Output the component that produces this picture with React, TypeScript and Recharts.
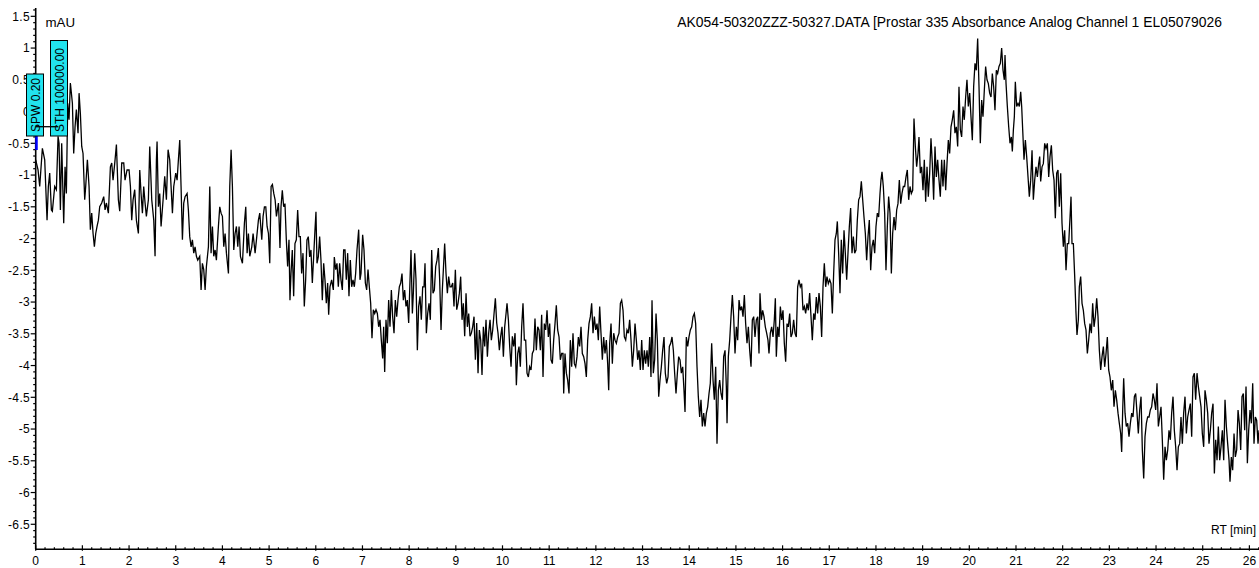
import React from 'react';
import { LineChart, Line, XAxis, YAxis } from 'recharts';

// RT [min], absorbance [mAU], in five consecutive stretches
const trace0to5: [number, number][] = [
[0,-0.76],[0.05,-0.92],[0.086,-1.18],[0.143,-0.58],[0.193,-0.76],[0.243,-1.71],[0.271,-1.18],[0.3,-0.97],[0.336,-1.55],[0.357,-1.57],[0.407,-1.18],[0.443,-1.23],[0.479,-0.39],[0.5,-0.5],[0.529,-1.55],[0.557,-0.5],[0.6,-1.76],[0.629,-0.87],[0.657,-1.29],[0.686,0.13],[0.714,-0.13],[0.743,0.45],[0.786,0.13],[0.814,-0.66],[0.843,-0.24],[0.871,0.03],[0.907,-0.34],[0.929,0.29],[0.957,-0.03],[0.986,-0.55],[1.014,-0.66],[1.05,-1.39],[1.071,-1.18],[1.107,-0.76],[1.143,-1.18],[1.171,-1.86],[1.2,-1.6],[1.229,-1.92],[1.257,-2.13],[1.286,-1.92],[1.314,-1.81],[1.343,-1.71],[1.371,-1.5],[1.414,-1.44],[1.457,-1.34],[1.486,-1.55],[1.514,-1.44],[1.557,-1.6],[1.6,-0.87],[1.629,-0.81],[1.657,-1.08],[1.7,-0.76],[1.729,-0.52],[1.771,-1.39],[1.8,-1.57],[1.843,-0.81],[1.886,-0.81],[1.914,-1.08],[1.957,-0.92],[2,-0.92],[2.029,-1.18],[2.057,-1.71],[2.086,-1.39],[2.121,-1.23],[2.157,-1.71],[2.2,-1.92],[2.229,-0.92],[2.257,-1.29],[2.286,-1.6],[2.314,-1.18],[2.343,-1.44],[2.371,-1.65],[2.414,-1.39],[2.443,-0.55],[2.486,-1.39],[2.529,-1.71],[2.557,-2.28],[2.586,-0.76],[2.6,-0.47],[2.629,-1.5],[2.657,-1.29],[2.686,-1.81],[2.729,-1.39],[2.764,-1.02],[2.8,-1.39],[2.836,-0.6],[2.871,-0.76],[2.9,-1.18],[2.929,-1.6],[2.957,-1.18],[3,-0.97],[3.029,-1.08],[3.057,-0.76],[3.086,-0.45],[3.114,-1.18],[3.143,-2.02],[3.171,-1.44],[3.2,-1.34],[3.243,-1.29],[3.271,-1.55],[3.3,-1.97],[3.329,-2.13],[3.357,-2.02],[3.386,-2.23],[3.414,-2.13],[3.443,-2.28],[3.471,-2.34],[3.514,-2.28],[3.543,-2.81],[3.571,-2.39],[3.6,-2.49],[3.629,-2.81],[3.657,-2.44],[3.7,-2.13],[3.729,-1.18],[3.757,-2.23],[3.786,-1.81],[3.814,-2.28],[3.843,-2.18],[3.871,-2.34],[3.914,-1.81],[3.943,-1.5],[3.971,-1.6],[4,-1.65],[4.029,-2.13],[4.057,-1.92],[4.086,-2.23],[4.129,-2.55],[4.157,-1.18],[4.186,-0.6],[4.214,-1.18],[4.243,-2.18],[4.271,-1.92],[4.3,-1.81],[4.329,-2.13],[4.357,-1.81],[4.386,-2.28],[4.429,-2.39],[4.471,-1.76],[4.5,-1.5],[4.529,-2.23],[4.557,-1.92],[4.586,-2.28],[4.629,-2.13],[4.657,-1.92],[4.7,-2.23],[4.729,-2.02],[4.771,-1.71],[4.8,-1.6],[4.843,-2.02],[4.871,-1.65],[4.9,-1.5],[4.929,-1.5],[4.957,-1.81],[4.986,-1.92],[5.014,-2.39],[5.043,-1.18],[5.071,-1.15],[5.1,-1.29],[5.129,-1.39],[5.157,-1.65],[5.2,-1.44]
];

const trace5to10: [number, number][] = [
[5.212,-1.66],[5.233,-2.15],[5.255,-1.5],[5.283,-1.24],[5.312,-1.5],[5.34,-1.45],[5.369,-2.02],[5.397,-2.44],[5.426,-2.02],[5.447,-2.97],[5.469,-2.55],[5.497,-2.18],[5.526,-2.91],[5.554,-2.08],[5.583,-2.02],[5.612,-1.55],[5.64,-1.97],[5.669,-1.97],[5.697,-2.55],[5.726,-2.23],[5.754,-3.07],[5.783,-2.65],[5.811,-2.02],[5.84,-1.97],[5.869,-2.29],[5.897,-2.18],[5.926,-2.7],[5.954,-2.29],[5.983,-1.86],[6.004,-1.58],[6.026,-2.39],[6.054,-2.29],[6.083,-1.97],[6.111,-2.34],[6.14,-2.97],[6.169,-2.39],[6.197,-2.65],[6.226,-3.02],[6.254,-2.7],[6.276,-3.2],[6.304,-2.76],[6.34,-2.65],[6.376,-2.81],[6.397,-2.29],[6.426,-2.49],[6.454,-2.39],[6.483,-2.76],[6.511,-2.39],[6.54,-2.65],[6.569,-2.81],[6.597,-2.18],[6.626,-2.18],[6.654,-2.65],[6.683,-2.23],[6.711,-2.91],[6.74,-2.34],[6.769,-2.76],[6.797,-2.65],[6.826,-2.76],[6.854,-2.55],[6.883,-2.18],[6.919,-1.86],[6.947,-2.65],[6.969,-2.55],[7.004,-1.94],[7.033,-2.18],[7.062,-2.7],[7.09,-2.81],[7.119,-2.49],[7.147,-2.76],[7.176,-3.02],[7.204,-3.57],[7.233,-3.12],[7.262,-3.18],[7.29,-3.12],[7.319,-3.18],[7.347,-3.39],[7.376,-3.28],[7.404,-3.6],[7.433,-3.89],[7.454,-3.39],[7.476,-4.1],[7.504,-3.28],[7.533,-3.65],[7.561,-2.97],[7.59,-3.39],[7.619,-2.81],[7.647,-3.23],[7.676,-3.49],[7.704,-2.97],[7.733,-3.23],[7.761,-2.97],[7.79,-2.76],[7.819,-2.7],[7.847,-2.55],[7.876,-2.97],[7.904,-2.81],[7.933,-3.07],[7.961,-2.97],[7.99,-3.33],[8.019,-2.65],[8.04,-2.18],[8.069,-3.18],[8.09,-2.86],[8.119,-2.23],[8.147,-2.65],[8.176,-3.76],[8.204,-3.07],[8.233,-2.91],[8.261,-3.28],[8.29,-2.76],[8.319,-2.76],[8.34,-2.39],[8.369,-3.49],[8.397,-3.18],[8.426,-3.02],[8.454,-3.28],[8.483,-2.18],[8.511,-2.86],[8.54,-2.81],[8.569,-2.44],[8.597,-2.34],[8.626,-2.15],[8.654,-2.65],[8.683,-3.44],[8.711,-2.81],[8.733,-2.49],[8.761,-2.08],[8.79,-2.55],[8.819,-2.86],[8.847,-2.6],[8.876,-2.76],[8.904,-2.76],[8.933,-2.7],[8.961,-3.07],[8.99,-2.49],[9.019,-3.12],[9.047,-3.02],[9.076,-2.86],[9.104,-2.6],[9.133,-3.28],[9.161,-3.02],[9.19,-3.54],[9.219,-2.86],[9.247,-3.39],[9.276,-3.18],[9.304,-3.54],[9.333,-3.49],[9.361,-3.39],[9.39,-3.23],[9.419,-3.91],[9.447,-3.33],[9.476,-4.12],[9.504,-3.44],[9.533,-3.6],[9.561,-4.15],[9.59,-3.39],[9.619,-3.7],[9.647,-3.28],[9.676,-3.86],[9.704,-3.49],[9.733,-3.28],[9.761,-3.6],[9.79,-3.44],[9.819,-3.18],[9.847,-2.94],[9.876,-3.33],[9.904,-3.49],[9.933,-3.76],[9.961,-3.54],[9.99,-3.39],[10.019,-3.86],[10.047,-3.39],[10.076,-3.18],[10.097,-3.02],[10.126,-3.28],[10.154,-3.7],[10.183,-4.02],[10.211,-3.54],[10.24,-3.7],[10.269,-3.49],[10.297,-4.31],[10.326,-3.81],[10.354,-3.7]
];

const trace10to15: [number, number][] = [
[10.382,-4.02],[10.411,-3.39],[10.439,-3.02],[10.468,-3.6],[10.497,-3.6],[10.525,-4.12],[10.554,-4.18],[10.582,-4.02],[10.611,-4.07],[10.639,-3.81],[10.668,-3.76],[10.696,-3.26],[10.725,-3.76],[10.754,-3.39],[10.782,-3.44],[10.811,-3.76],[10.839,-3.2],[10.868,-4.18],[10.896,-3.34],[10.925,-3.44],[10.954,-3.13],[10.982,-3.55],[11.011,-3.34],[11.039,-3.91],[11.068,-3.97],[11.096,-3.6],[11.125,-3.34],[11.153,-3.05],[11.182,-3.44],[11.211,-3.55],[11.239,-3.91],[11.268,-3.81],[11.296,-3.81],[11.311,-4.44],[11.339,-3.81],[11.368,-4.12],[11.396,-4.23],[11.425,-4.44],[11.453,-3.6],[11.482,-4.02],[11.51,-3.49],[11.539,-3.97],[11.568,-4.02],[11.596,-3.86],[11.625,-3.55],[11.653,-3.7],[11.682,-3.39],[11.71,-3.81],[11.739,-3.86],[11.768,-3.97],[11.796,-4.18],[11.825,-3.6],[11.853,-3.34],[11.882,-3.23],[11.91,-3.02],[11.939,-3.49],[11.968,-3.23],[11.996,-3.44],[12.025,-3.34],[12.053,-3.6],[12.082,-3.07],[12.11,-3.49],[12.139,-3.91],[12.167,-3.55],[12.196,-3.81],[12.225,-3.6],[12.253,-3.97],[12.275,-4.39],[12.296,-3.65],[12.325,-3.34],[12.353,-3.97],[12.382,-3.49],[12.41,-3.6],[12.439,-3.65],[12.467,-3.55],[12.496,-3.49],[12.525,-3.02],[12.553,-2.97],[12.582,-3.13],[12.61,-3.55],[12.639,-3.6],[12.667,-3.44],[12.696,-3.49],[12.724,-3.28],[12.753,-3.6],[12.782,-4.02],[12.81,-3.76],[12.839,-3.34],[12.867,-3.6],[12.896,-3.91],[12.924,-3.76],[12.953,-4.07],[12.982,-3.6],[13.01,-4.07],[13.039,-3.76],[13.067,-3.97],[13.096,-3.76],[13.124,-4.02],[13.153,-3.55],[13.181,-4.18],[13.203,-2.97],[13.231,-4.12],[13.26,-3.91],[13.289,-3.18],[13.317,-3.6],[13.346,-4.49],[13.374,-4.23],[13.403,-4.02],[13.431,-3.76],[13.46,-3.55],[13.488,-4.12],[13.517,-4.28],[13.546,-4.18],[13.574,-3.7],[13.603,-3.65],[13.631,-3.55],[13.66,-3.76],[13.688,-4.12],[13.717,-4.44],[13.746,-4.12],[13.774,-3.86],[13.803,-3.91],[13.831,-4.12],[13.86,-4.02],[13.888,-4.39],[13.91,-4.73],[13.938,-3.55],[13.967,-3.7],[13.995,-3.55],[14.024,-3.44],[14.053,-3.39],[14.081,-3.23],[14.11,-3.18],[14.138,-3.34],[14.167,-4.02],[14.195,-4.49],[14.224,-4.81],[14.252,-4.54],[14.281,-4.96],[14.31,-4.75],[14.338,-4.96],[14.367,-4.75],[14.395,-4.65],[14.424,-4.44],[14.452,-4.28],[14.481,-3.65],[14.51,-4.23],[14.538,-4.54],[14.567,-4.02],[14.595,-5.23],[14.624,-4.39],[14.652,-4.23],[14.681,-4.44],[14.71,-4.54],[14.738,-3.86],[14.767,-3.76],[14.795,-4.33],[14.81,-4.91],[14.838,-3.86],[14.867,-3.6],[14.895,-3.23],[14.924,-2.89],[14.952,-3.23],[14.981,-3.81],[15.01,-3.39],[15.038,-3.6],[15.067,-2.97],[15.095,-3.13],[15.124,-3.07],[15.152,-3.23],[15.181,-2.89],[15.209,-3.34],[15.238,-3.65],[15.267,-3.39],[15.295,-3.76],[15.324,-4.02],[15.352,-3.28],[15.381,-3.23],[15.409,-3.55],[15.438,-3.28],[15.467,-3.23],[15.495,-3.81]
];

const trace15to20: [number, number][] = [
[15.516,-2.86],[15.545,-3.28],[15.573,-3.13],[15.602,-3.23],[15.63,-3.39],[15.659,-3.49],[15.687,-3.6],[15.709,-3.81],[15.737,-3.49],[15.766,-3.39],[15.795,-3.55],[15.823,-3.28],[15.845,-2.94],[15.866,-3.86],[15.895,-3.39],[15.923,-3.55],[15.952,-3.07],[15.98,-3.28],[16.009,-3.13],[16.037,-3.65],[16.066,-3.94],[16.095,-3.34],[16.123,-3.39],[16.152,-3.18],[16.18,-3.55],[16.209,-3.49],[16.237,-3.28],[16.266,-3.49],[16.294,-3.55],[16.323,-2.76],[16.352,-2.65],[16.38,-2.76],[16.409,-2.71],[16.437,-3.13],[16.466,-3.07],[16.494,-3.18],[16.523,-3.02],[16.552,-3.13],[16.58,-2.86],[16.609,-3.23],[16.637,-3.6],[16.666,-3.18],[16.694,-3.28],[16.723,-2.92],[16.751,-3.18],[16.78,-2.86],[16.809,-3.07],[16.837,-3.55],[16.866,-2.76],[16.894,-2.39],[16.923,-2.76],[16.951,-2.6],[16.98,-2.71],[17.009,-2.65],[17.037,-2.71],[17.066,-3.18],[17.094,-2.55],[17.123,-2.02],[17.151,-1.92],[17.173,-1.73],[17.201,-2.23],[17.23,-2.86],[17.258,-2.02],[17.287,-2.55],[17.316,-1.87],[17.344,-2.23],[17.373,-2.65],[17.401,-2.23],[17.43,-1.81],[17.458,-1.52],[17.487,-2.23],[17.516,-1.97],[17.544,-2.23],[17.573,-2.18],[17.601,-1.71],[17.63,-1.39],[17.658,-1.34],[17.687,-1.1],[17.716,-1.39],[17.744,-1.66],[17.773,-1.92],[17.801,-2.34],[17.83,-1.97],[17.858,-1.71],[17.887,-2.5],[17.915,-2.13],[17.944,-2.02],[17.973,-2.23],[18.001,-1.81],[18.03,-1.6],[18.058,-1.66],[18.087,-1.29],[18.108,-1.08],[18.13,-0.95],[18.158,-1.18],[18.187,-1.6],[18.215,-2.5],[18.244,-1.81],[18.272,-1.34],[18.301,-1.6],[18.33,-2.55],[18.358,-1.92],[18.387,-1.66],[18.415,-1.87],[18.444,-1.55],[18.472,-1.45],[18.501,-1.08],[18.53,-1.45],[18.558,-1.29],[18.587,-1.18],[18.615,-1.18],[18.644,-1.03],[18.672,-0.92],[18.701,-1.39],[18.73,-1.18],[18.758,-1.29],[18.787,-1.24],[18.815,-0.11],[18.844,-0.55],[18.872,-0.87],[18.901,-0.66],[18.922,-0.4],[18.951,-0.97],[18.979,-0.87],[19.008,-1.24],[19.036,-0.76],[19.065,-1.42],[19.094,-0.87],[19.122,-1.34],[19.151,-0.97],[19.179,-0.42],[19.208,-0.82],[19.236,-1.39],[19.265,-0.55],[19.294,-1.03],[19.322,-0.76],[19.351,-1.08],[19.379,-1.34],[19.408,-0.76],[19.436,-1.18],[19.465,-0.76],[19.494,-1.24],[19.522,-0.82],[19.551,-0.45],[19.579,-0.66],[19.608,-0.24],[19.636,-0.13],[19.665,0.02],[19.693,-0.34],[19.722,-0.24],[19.751,-0.55],[19.779,0.39],[19.808,-0.29],[19.836,-0.4],[19.865,0.08],[19.893,-0.13],[19.922,0.23],[19.95,0.5],[19.979,0.08],[20.008,0.29],[20.036,-0.08],[20.065,-0.45],[20.093,0.39],[20.122,0.76],[20.15,0.65],[20.179,1.15],[20.208,0.39],[20.236,-0.5],[20.265,0.18],[20.293,-0.08],[20.322,0.34],[20.35,0.71],[20.379,0.5],[20.408,0.44],[20.436,0.29],[20.465,0.23],[20.493,0.6],[20.522,0.39],[20.55,0.02],[20.579,0.65],[20.607,0.6],[20.636,0.71],[20.665,0.76],[20.693,1.0],[20.722,0.65],[20.75,0.5]
];

const trace20to26: [number, number][] = [
[20.765,0.89],[20.787,0.44],[20.815,0.08],[20.844,-0.24],[20.872,-0.5],[20.901,-0.4],[20.922,-0.63],[20.944,-0.29],[20.965,-0.08],[20.986,0.47],[21.015,0.08],[21.044,0.13],[21.072,0.08],[21.101,0.31],[21.122,0.08],[21.144,-0.29],[21.172,-0.76],[21.201,-0.45],[21.229,-0.71],[21.258,-1.03],[21.286,-1.34],[21.315,-1.08],[21.344,-0.61],[21.372,-1.39],[21.401,-1.08],[21.429,-0.87],[21.458,-1.03],[21.486,-0.82],[21.508,-0.71],[21.529,-1.1],[21.558,-0.87],[21.586,-0.82],[21.615,-0.5],[21.643,-0.58],[21.672,-0.5],[21.701,-1.03],[21.729,-0.71],[21.758,-0.53],[21.786,-0.92],[21.815,-1.08],[21.843,-1.68],[21.872,-0.97],[21.9,-0.92],[21.929,-1.5],[21.958,-0.97],[21.986,-1.76],[22.015,-2.13],[22.043,-1.87],[22.072,-2.5],[22.1,-2.08],[22.129,-2.08],[22.158,-1.66],[22.179,-1.34],[22.2,-2.08],[22.229,-2.08],[22.258,-2.6],[22.286,-3.18],[22.307,-3.52],[22.336,-3.28],[22.357,-2.76],[22.386,-2.6],[22.415,-3.02],[22.443,-3.13],[22.472,-3.34],[22.5,-3.44],[22.529,-3.81],[22.557,-3.6],[22.586,-3.34],[22.615,-3.49],[22.643,-3.02],[22.672,-3.39],[22.7,-3.23],[22.729,-2.94],[22.757,-3.23],[22.786,-3.76],[22.815,-4.07],[22.843,-3.86],[22.872,-3.7],[22.9,-4.02],[22.929,-3.81],[22.957,-3.55],[22.986,-4.07],[23.014,-4.18],[23.043,-4.39],[23.072,-4.23],[23.1,-4.65],[23.129,-4.39],[23.157,-4.54],[23.186,-4.75],[23.214,-4.91],[23.243,-5.07],[23.264,-5.36],[23.286,-4.7],[23.307,-4.2],[23.336,-4.75],[23.364,-4.96],[23.393,-4.91],[23.421,-5.12],[23.45,-4.91],[23.479,-4.75],[23.507,-4.81],[23.536,-4.49],[23.564,-4.44],[23.593,-4.75],[23.621,-5.07],[23.65,-4.7],[23.679,-4.49],[23.707,-5.33],[23.736,-5.78],[23.764,-5.12],[23.793,-4.91],[23.821,-4.81],[23.85,-4.81],[23.878,-4.7],[23.907,-4.65],[23.936,-4.44],[23.964,-4.54],[23.993,-4.7],[24.021,-4.28],[24.05,-4.96],[24.078,-4.81],[24.107,-4.65],[24.135,-5.17],[24.164,-5.8],[24.193,-5.28],[24.221,-5.49],[24.25,-5.33],[24.278,-5.02],[24.307,-5.17],[24.335,-4.75],[24.364,-4.49],[24.392,-5.02],[24.421,-5.28],[24.45,-5.65],[24.478,-5.28],[24.507,-5.23],[24.535,-4.81],[24.564,-5.23],[24.592,-4.75],[24.621,-4.49],[24.65,-5.07],[24.678,-4.81],[24.707,-4.7],[24.735,-4.6],[24.764,-5.12],[24.792,-4.18],[24.821,-4.12],[24.849,-4.54],[24.878,-4.12],[24.907,-4.33],[24.935,-4.49],[24.964,-4.65],[24.992,-5.07],[25.021,-5.28],[25.049,-4.39],[25.078,-4.54],[25.107,-4.75],[25.135,-5.23],[25.164,-5.02],[25.192,-4.75],[25.221,-4.6],[25.25,-5.7],[25.278,-5.17],[25.307,-5.49],[25.335,-4.96],[25.364,-5.49],[25.392,-5.28],[25.421,-5.02],[25.45,-5.49],[25.478,-4.54],[25.507,-4.96],[25.535,-5.23],[25.564,-5.49],[25.585,-5.83],[25.614,-5.44],[25.642,-5.65],[25.671,-5.07],[25.699,-5.44],[25.728,-5.33],[25.757,-4.7],[25.785,-4.91],[25.814,-5.33],[25.842,-4.49],[25.871,-4.44],[25.899,-5.02],[25.928,-4.33],[25.957,-5.54],[25.985,-5.02],[26.014,-4.7],[26.042,-4.91],[26.071,-4.28],[26.099,-5.23],[26.128,-4.81],[26.156,-4.86],[26.185,-5.23],[26.206,-5.02]
];

const rtMajorTicks = [0,1,2,3,4,5,6,7,8,9,10,11,12,13,14,15,16,17,18,19,20,21,22,23,24,25,26];
const mauMajorTicks = [1.5,1,0.5,0,-0.5,-1,-1.5,-2,-2.5,-3,-3.5,-4,-4.5,-5,-5.5,-6,-6.5];
const rtDomain: [number, number] = [0, 26.206];
const mauDomain: [number, number] = [-6.894, 1.631];

const headerText = 'AK054-50320ZZZ-50327.DATA [Prostar 335 Absorbance Analog Channel 1 EL05079026';
const yUnitText = 'mAU';
const xUnitText = 'RT [min]';
const spwText = 'SPW 0.20';
const sthText = 'STH 100000.00';

const traceData = [...trace0to5, ...trace5to10, ...trace10to15, ...trace15to20, ...trace20to26].map(
  ([rt, mau]) => ({ rt, mau })
);

// minor ticks every 0.2 min and every 0.1 mAU
const rtTicks: number[] = [];
for (let i = 0; i * 0.2 <= rtDomain[1] + 1e-9; i++) rtTicks.push(Math.round(i * 2) / 10);
const mauTicks: number[] = [];
for (let i = Math.ceil(mauDomain[0] * 10); i <= Math.floor(mauDomain[1] * 10); i++) mauTicks.push(i / 10);

const FONT = '"Liberation Sans", Arial, Helvetica, sans-serif';
const isMajorRt = (v: number) => rtMajorTicks.some((m) => Math.abs(m - v) < 1e-6);
const isMajorMau = (v: number) => mauMajorTicks.some((m) => Math.abs(m - v) < 1e-6);

const XTick = (props: any) => {
  const { x, y, payload } = props;
  const v = payload.value as number;
  const major = isMajorRt(v);
  return (
    <g>
      <line x1={x} x2={x} y1={y - (major ? 4 : 2)} y2={y + (major ? 1.5 : 0)} stroke="#000" strokeWidth={1.2} />
      {major && (
        <text x={x} y={y + 15.6} textAnchor="middle" fontSize={12} fontFamily={FONT} fill="#000">
          {String(Math.round(v))}
        </text>
      )}
    </g>
  );
};

const YTick = (props: any) => {
  const { x, y, payload } = props;
  const v = payload.value as number;
  const major = isMajorMau(v);
  const label = String(Math.round(v * 10) / 10 + 0);
  return (
    <g>
      <line x1={x - (major ? 5 : 2.5)} x2={x} y1={y} y2={y} stroke="#000" strokeWidth={1.2} />
      {major && (
        <text x={x - 5.5} y={y + 4.3} textAnchor="end" fontSize={12} letterSpacing={0.4} fontFamily={FONT} fill="#000">
          {label}
        </text>
      )}
    </g>
  );
};

export default function App() {
  return (
    <div style={{ position: 'absolute', left: 0, top: 0, width: 1259, height: 568, background: '#fff', overflow: 'hidden' }}>
      <LineChart width={1259} height={568} data={traceData} margin={{ top: 8, right: 0, bottom: 0, left: 0 }}>
        <XAxis
          dataKey="rt"
          type="number"
          domain={rtDomain}
          ticks={rtTicks}
          interval={0}
          allowDataOverflow
          height={18.7}
          tickLine={false}
          tickSize={0}
          tickMargin={0}
          axisLine={{ stroke: '#000', strokeWidth: 1.6 }}
          tick={(p: any) => <XTick {...p} />}
        />
        <XAxis
          xAxisId="top"
          orientation="top"
          type="number"
          domain={rtDomain}
          allowDataOverflow
          height={0}
          tick={false}
          tickLine={false}
          axisLine={{ stroke: '#000', strokeWidth: 1.6 }}
        />
        <YAxis
          type="number"
          domain={mauDomain}
          ticks={mauTicks}
          interval={0}
          allowDataOverflow
          width={35.7}
          tickLine={false}
          tickSize={0}
          tickMargin={0}
          axisLine={{ stroke: '#000', strokeWidth: 1.6 }}
          tick={(p: any) => <YTick {...p} />}
        />
        <Line
          type="linear"
          dataKey="mau"
          stroke="#000"
          strokeWidth={1.3}
          dot={false}
          activeDot={false}
          isAnimationActive={false}
        />
      </LineChart>
      <svg width={1259} height={568} style={{ position: 'absolute', left: 0, top: 0, pointerEvents: 'none' }}>
        <text x={45.5} y={27} fontSize={13.3} fontFamily={FONT} fill="#000">{yUnitText}</text>
        <text x={1222} y={27} fontSize={13.9} fontFamily={FONT} fill="#000" textAnchor="end">{headerText}</text>
        <text x={1256} y={534} fontSize={12} fontFamily={FONT} fill="#000" textAnchor="end">{xUnitText}</text>
        <line x1={36.5} x2={36.5} y1={136} y2={150} stroke="#0000ff" strokeWidth={2.5} />
        <rect x={26.5} y={74} width={17} height={62} fill="#22E4EE" stroke="#000" strokeWidth={1} />
        <rect x={50.5} y={40.5} width={17} height={95.5} fill="#22E4EE" stroke="#000" strokeWidth={1} />
        <text x={0} y={0} transform="translate(39.5 105) rotate(-90)" textAnchor="middle" fontSize={12} fontFamily={FONT} fill="#000">{spwText}</text>
        <text x={0} y={0} transform="translate(63.5 90) rotate(-90)" textAnchor="middle" fontSize={12} fontFamily={FONT} fill="#000">{sthText}</text>
        <line x1={35.7} x2={58.3} y1={126.7} y2={126.7} stroke="#000" strokeWidth={1.3} />
      </svg>
    </div>
  );
}
